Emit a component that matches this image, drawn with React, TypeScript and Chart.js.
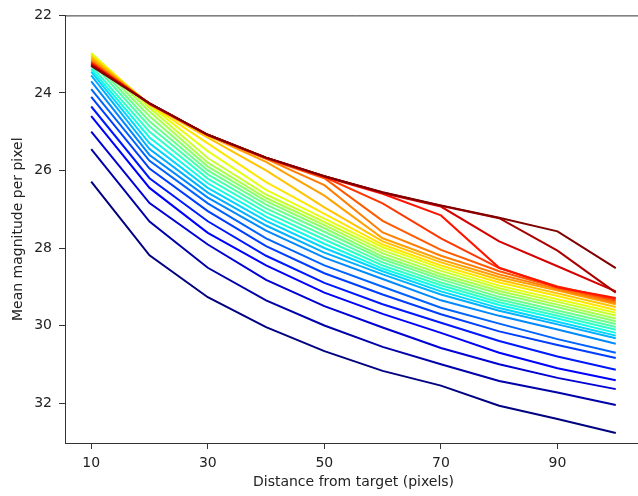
import React, { useEffect, useRef } from "react";
import { Chart, registerables } from "chart.js";
Chart.register(...registerables);

const distances = [10, 20, 30, 40, 50, 60, 70, 80, 90, 100];
const xTickValues = [10, 30, 50, 70, 90];
const yTickValues = [22, 24, 26, 28, 30, 32];
const xLabel = "Distance from target (pixels)";
const yLabel = "Mean magnitude per pixel";

const line00 = [26.29, 28.19, 29.27, 30.04, 30.66, 31.17, 31.55, 32.07, 32.41, 32.77];
const line01 = [25.45, 27.32, 28.51, 29.35, 30.0, 30.55, 31.0, 31.43, 31.73, 32.05];
const line02 = [25.0, 26.84, 27.91, 28.82, 29.5, 30.05, 30.58, 31.0, 31.35, 31.64];
const line03 = [24.6, 26.45, 27.61, 28.45, 29.15, 29.7, 30.19, 30.7, 31.1, 31.41];
const line04 = [24.35, 26.2, 27.31, 28.2, 28.9, 29.45, 29.93, 30.4, 30.8, 31.14];
const line05 = [24.1, 25.95, 27.05, 27.95, 28.65, 29.2, 29.71, 30.15, 30.5, 30.84];
const line06 = [23.9, 25.75, 26.85, 27.75, 28.45, 29.0, 29.54, 29.95, 30.35, 30.7];
const line07 = [23.7, 25.6, 26.7, 27.55, 28.25, 28.8, 29.35, 29.75, 30.1, 30.47];
const line08 = [23.55, 25.45, 26.57, 27.42, 28.12, 28.68, 29.2, 29.62, 29.97, 30.33];
const line09 = [23.45, 25.3, 26.45, 27.3, 28.0, 28.6, 29.12, 29.55, 29.9, 30.26];
const line10 = [23.38, 25.15, 26.33, 27.19, 27.89, 28.53, 29.04, 29.47, 29.82, 30.19];
const line11 = [23.3, 25.0, 26.21, 27.08, 27.78, 28.45, 28.96, 29.4, 29.75, 30.11];
const line12 = [23.2, 24.86, 26.1, 26.98, 27.68, 28.37, 28.89, 29.33, 29.68, 30.04];
const line13 = [23.12, 24.73, 26.0, 26.88, 27.58, 28.29, 28.81, 29.26, 29.61, 29.96];
const line14 = [23.05, 24.6, 25.9, 26.79, 27.49, 28.22, 28.74, 29.18, 29.53, 29.89];
const line15 = [23.0, 24.48, 25.8, 26.71, 27.41, 28.14, 28.67, 29.11, 29.46, 29.82];
const line16 = [22.97, 24.38, 25.68, 26.62, 27.33, 28.06, 28.59, 29.04, 29.39, 29.74];
const line17 = [22.98, 24.32, 25.5, 26.5, 27.24, 27.98, 28.52, 28.97, 29.32, 29.67];
const line18 = [23.02, 24.3, 25.3, 26.3, 27.12, 27.91, 28.45, 28.89, 29.24, 29.6];
const line19 = [23.07, 24.29, 25.15, 26.0, 26.95, 27.83, 28.37, 28.82, 29.17, 29.52];
const line20 = [23.12, 24.29, 25.1, 25.78, 26.65, 27.75, 28.3, 28.75, 29.1, 29.45];
const line21 = [23.17, 24.28, 25.09, 25.7, 26.38, 27.6, 28.2, 28.68, 29.06, 29.41];
const line22 = [23.2, 24.28, 25.09, 25.69, 26.2, 27.3, 28.05, 28.6, 29.02, 29.37];
const line23 = [23.22, 24.28, 25.08, 25.68, 26.17, 26.85, 27.75, 28.52, 28.99, 29.33];
const line24 = [23.24, 24.27, 25.08, 25.68, 26.16, 26.6, 27.16, 28.51, 29.01, 29.29];
const line25 = [23.26, 24.27, 25.08, 25.67, 26.15, 26.58, 26.93, 27.83, 28.47, 29.12];
const line26 = [23.28, 24.27, 25.08, 25.67, 26.15, 26.57, 26.91, 27.23, 28.07, 29.15];
const line27 = [23.3, 24.27, 25.08, 25.67, 26.15, 26.56, 26.9, 27.22, 27.57, 28.52];

const allLines = [
  line00, line01, line02, line03, line04, line05, line06, line07,
  line08, line09, line10, line11, line12, line13, line14, line15,
  line16, line17, line18, line19, line20, line21, line22, line23,
  line24, line25, line26, line27,
];

function clamp01(v: number) {
  return Math.max(0, Math.min(1, v));
}

function jet(t: number): string {
  let r: number, g: number, b: number;
  if (t < 0.35) r = 0;
  else if (t < 0.66) r = (t - 0.35) / 0.31;
  else if (t < 0.89) r = 1;
  else r = 1 - (0.5 * (t - 0.89)) / 0.11;
  if (t < 0.125) g = 0;
  else if (t < 0.375) g = (t - 0.125) / 0.25;
  else if (t < 0.64) g = 1;
  else if (t < 0.91) g = 1 - (t - 0.64) / 0.27;
  else g = 0;
  if (t < 0.11) b = 0.5 + (0.5 * t) / 0.11;
  else if (t < 0.34) b = 1;
  else if (t < 0.65) b = 1 - (t - 0.34) / 0.31;
  else b = 0;
  const to = (v: number) => Math.round(clamp01(v) * 255);
  return `rgb(${to(r)},${to(g)},${to(b)})`;
}

const topFrame = {
  id: "topFrame",
  afterDraw(chart: any) {
    const { ctx, chartArea } = chart;
    ctx.save();
    ctx.strokeStyle = "#333";
    ctx.lineWidth = 1;
    ctx.beginPath();
    ctx.moveTo(chartArea.left, chartArea.top + 0.5);
    ctx.lineTo(chart.width, chartArea.top + 0.5);
    ctx.stroke();
    ctx.restore();
  },
};

export default function App() {
  const ref = useRef<HTMLCanvasElement>(null);
  useEffect(() => {
    if (!ref.current) return;
    const n = allLines.length;
    const datasets = allLines
      .map((vals, i) => ({
        label: `line ${i}`,
        data: vals.map((v, j) => ({ x: distances[j], y: v })),
        borderColor: jet(i / (n - 1)),
        backgroundColor: jet(i / (n - 1)),
        borderWidth: 2,
        pointRadius: 0,
        tension: 0,
        fill: false,
      }))
      .reverse();
    const font = { family: "'DejaVu Sans', sans-serif", size: 14 };
    const chart = new Chart(ref.current, {
      type: "line",
      data: { datasets },
      plugins: [topFrame],
      options: {
        animation: false,
        responsive: false,
        devicePixelRatio: 1,
        layout: { padding: { top: 13, right: 4, left: 0, bottom: 0 } },
        plugins: { legend: { display: false }, tooltip: { enabled: false } },
        scales: {
          x: {
            type: "linear",
            min: 5.5,
            max: 104.5,
            afterFit: (s: any) => {
              s.height = 53;
            },
            afterBuildTicks: (s: any) => {
              s.ticks = xTickValues.map((v) => ({ value: v }));
            },
            grid: { display: true, drawOnChartArea: false, drawTicks: true, tickLength: 6, color: "#333" },
            border: { display: true, color: "#333", width: 1 },
            ticks: { font, color: "#222", padding: 6, maxRotation: 0 },
            title: { display: true, text: xLabel, font, color: "#222", padding: { top: 0, bottom: 5 } },
          },
          y: {
            type: "linear",
            reverse: true,
            min: 22,
            max: 33.03,
            afterFit: (s: any) => {
              s.width = 65;
            },
            afterBuildTicks: (s: any) => {
              s.ticks = yTickValues.map((v) => ({ value: v }));
            },
            grid: { display: true, drawOnChartArea: false, drawTicks: true, tickLength: 6, color: "#333" },
            border: { display: true, color: "#333", width: 1 },
            ticks: { font, color: "#222", padding: 7 },
            title: { display: true, text: yLabel, font, color: "#222", padding: { top: 10, bottom: 0 } },
          },
        },
      },
    });
    return () => chart.destroy();
  }, []);
  return (
    <div style={{ position: "fixed", left: 0, top: 0, width: 638, height: 496, overflow: "hidden", background: "#fff" }}>
      <canvas ref={ref} width={646} height={496} style={{ display: "block", width: 646, height: 496 }} />
    </div>
  );
}
